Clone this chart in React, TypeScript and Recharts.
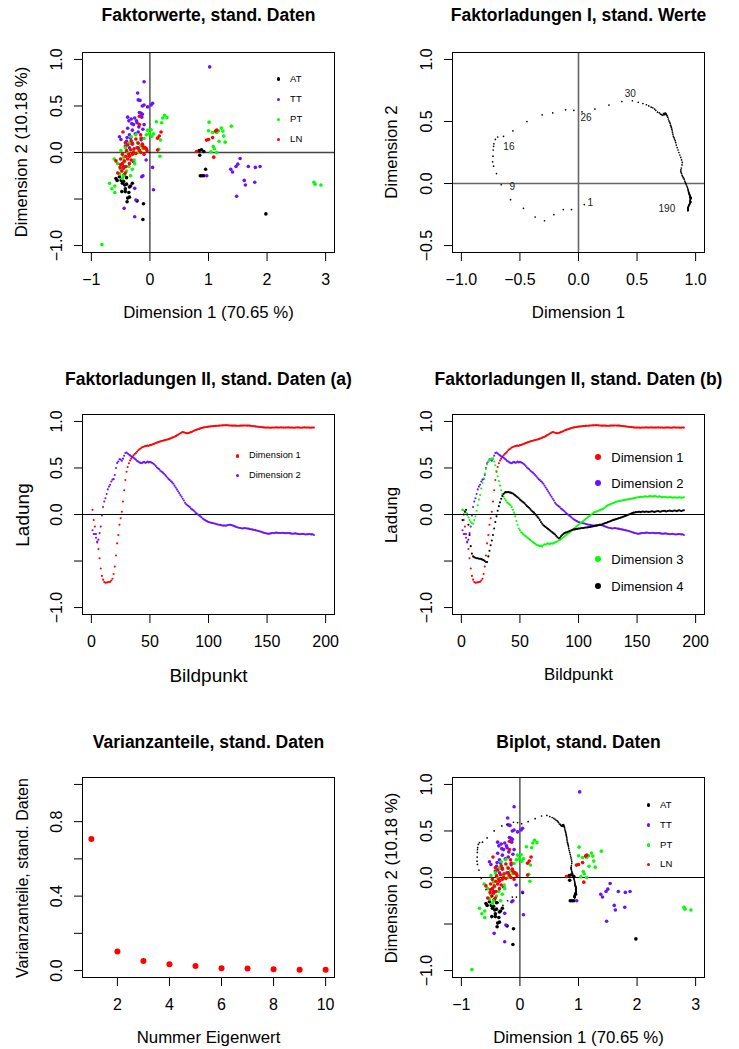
import React from 'react';
import { ScatterChart, Scatter, XAxis, YAxis, ReferenceLine } from 'recharts';

const FONT = '"Liberation Sans", Arial, Helvetica, sans-serif';
const RED = '#FF0000';
const PURPLE = '#6A11FF';
const GREEN = '#00FF00';
const BLACK = '#000000';

// factor scores (Dimension 1, Dimension 2) per tissue group
const SCORES_AT: [number, number][] = [
  [-0.58, -0.28], [-0.56, -0.3], [-0.49, -0.3], [-0.47, -0.33], [-0.45, -0.31], [-0.43, -0.35],
  [-0.4, -0.34], [-0.35, -0.37], [-0.33, -0.36], [-0.42, -0.39], [-0.48, -0.42], [-0.42, -0.42],
  [-0.36, -0.43], [-0.38, -0.49], [-0.35, -0.48], [-0.39, -0.53], [-0.22, -0.52], [-0.11, -0.55],
  [-0.12, -0.72], [-0.4, -0.27], [-0.44, -0.24], [-0.52, -0.26], [-0.3, -0.33],
  [0.84, 0.02], [0.88, 0.03], [0.92, 0.01], [0.85, -0.03], [0.95, -0.18], [0.86, -0.25],
  [0.89, -0.25], [0.92, -0.25], [1.98, -0.66],
];
const SCORES_TT: [number, number][] = [
  [-0.1, 0.76], [-0.21, 0.64], [-0.2, 0.565], [-0.17, 0.56], [-0.13, 0.5], [-0.1, 0.51], [-0.04, 0.49],
  [0.045, 0.53], [0.02, 0.51], [-0.15, 0.42], [-0.13, 0.41], [-0.14, 0.38], [-0.38, 0.38], [-0.36, 0.34],
  [-0.32, 0.36], [-0.31, 0.31], [-0.28, 0.3], [-0.26, 0.37], [-0.22, 0.32], [-0.19, 0.275], [-0.52, 0.17],
  [-0.495, 0.14], [-0.39, 0.16], [-0.35, 0.19], [-0.33, 0.155], [-0.15, 0.136], [-0.065, -0.08],
  [0.045, -0.16], [-0.14, -0.26], [-0.12, -0.25], [0.06, -0.4], [-0.26, -0.385], [-0.24, -0.51],
  [-0.44, -0.6], [-0.26, -0.69], [-0.42, 0.07], [-0.3, 0.1], [-0.25, 0.2], [-0.2, 0.22], [-0.1, 0.3],
  [-0.12, 0.25], [-0.35, 0.05], [-0.28, -0.1], [-0.45, -0.15], [-0.2, 0.05], [-0.38, 0.26], [-0.3, 0.24],
  [-0.18, 0.43], [-0.23, 0.34], [-0.4, 0.12],
  [1.02, 0.92], [1.38, -0.18], [1.41, -0.21], [1.47, -0.15], [1.5, -0.125], [1.54, -0.064], [1.68, -0.15],
  [1.8, -0.16], [1.88, -0.15], [1.61, -0.3], [1.63, -0.35], [1.79, -0.32], [1.48, -0.47], [0.97, -0.25],
];
const SCORES_PT: [number, number][] = [
  [-0.82, -0.99], [-0.69, -0.33], [-0.65, -0.39], [-0.6, -0.36], [-0.6, -0.43], [-0.61, -0.07],
  [-0.55, -0.12], [-0.5, -0.18], [-0.45, -0.25], [-0.4, -0.2], [-0.3, -0.18], [-0.26, -0.12], [-0.27, -0.08],
  [-0.38, 0.0], [-0.495, 0.02], [-0.42, 0.05], [-0.39, 0.09], [-0.32, 0.17], [-0.24, 0.19], [-0.21, 0.11],
  [-0.155, 0.07], [-0.28, 0.025], [-0.06, 0.19], [-0.01, 0.2], [0.02, 0.245], [0.06, 0.2],
  [-0.04, 0.24], [0.03, 0.175], [0.11, 0.33], [0.2, 0.32], [0.25, 0.4], [0.29, 0.375], [0.22, 0.37],
  [0.18, 0.135], [0.15, 0.035], [0.17, -0.04], [-0.35, 0.1], [-0.45, -0.05], [-0.2, 0.0], [-0.1, 0.15],
  [-0.33, -0.25], [-0.52, -0.23], [-0.47, -0.28], [-0.12, 0.04], [-0.36, -0.15], [-0.43, -0.1],
  [1.01, 0.326], [1.0, 0.233], [1.07, 0.215], [1.14, 0.215], [1.17, 0.233], [1.22, 0.262], [1.245, 0.23],
  [1.26, 0.176], [1.285, 0.111], [1.39, 0.283], [1.18, 0.12], [1.08, 0.065], [1.1, 0.04], [1.14, 0.0],
  [1.04, 0.007], [2.8, -0.32], [2.82, -0.34], [2.92, -0.35],
];
const SCORES_LN: [number, number][] = [
  [-0.18, 0.39], [-0.46, 0.22], [-0.18, 0.3], [-0.16, 0.19], [-0.15, 0.155], [-0.32, 0.125], [-0.24, 0.145],
  [-0.42, 0.105], [-0.38, 0.08], [-0.3, 0.09], [-0.27, 0.04], [-0.22, 0.05], [-0.18, 0.025], [-0.13, 0.09],
  [-0.1, 0.05], [-0.05, 0.02], [-0.47, -0.02], [-0.41, -0.04], [-0.35, -0.04], [-0.3, -0.02], [-0.24, -0.01],
  [-0.155, 0.0], [-0.1, -0.02], [-0.5, -0.07], [-0.44, -0.09], [-0.38, -0.07], [-0.32, -0.08], [-0.47, -0.12],
  [-0.41, -0.15], [-0.35, -0.12], [-0.51, -0.16], [-0.58, -0.09], [-0.45, -0.17], [-0.48, -0.2], [-0.42, -0.22],
  [-0.55, -0.22], [-0.5, -0.13], [-0.36, -0.02], [-0.28, 0.0], [-0.2, 0.1], [-0.08, 0.05], [-0.12, 0.07],
  [-0.4, 0.02], [-0.33, 0.03], [0.13, 0.154], [0.16, 0.178], [0.19, 0.22], [0.13, 0.026], [-0.06, 0.04],
  [0.795, 0.01], [0.966, 0.133], [1.0, 0.14], [1.07, 0.16], [1.14, 0.24], [1.12, 0.23], [1.09, -0.05],
];
const GROUPS = ['AT', 'TT', 'PT', 'LN'];

// factor loadings per Bildpunkt 1..190
const LOAD_DIM1 = [
  0.05, -0.06, -0.13, -0.21, -0.29, -0.37, -0.47, -0.58, -0.66, -0.7,
  -0.725, -0.733, -0.73, -0.728, -0.725, -0.722, -0.71, -0.69, -0.64, -0.56,
  -0.44, -0.31, -0.22, -0.11, -0.04, 0.03, 0.14, 0.26, 0.37, 0.46,
  0.51, 0.55, 0.58, 0.6, 0.62, 0.635, 0.65, 0.66, 0.675, 0.69,
  0.7, 0.71, 0.72, 0.725, 0.73, 0.735, 0.738, 0.74, 0.738, 0.745,
  0.748, 0.752, 0.757, 0.762, 0.767, 0.772, 0.778, 0.782, 0.786, 0.79,
  0.793, 0.797, 0.8, 0.803, 0.806, 0.81, 0.815, 0.82, 0.826, 0.83,
  0.835, 0.842, 0.85, 0.857, 0.865, 0.873, 0.88, 0.886, 0.884, 0.878,
  0.874, 0.873, 0.876, 0.88, 0.885, 0.89, 0.896, 0.902, 0.907, 0.912,
  0.916, 0.92, 0.925, 0.93, 0.933, 0.936, 0.938, 0.94, 0.942, 0.944,
  0.946, 0.947, 0.948, 0.95, 0.951, 0.952, 0.953, 0.954, 0.955, 0.956,
  0.957, 0.958, 0.958, 0.959, 0.96, 0.959, 0.958, 0.957, 0.956, 0.955,
  0.955, 0.956, 0.955, 0.954, 0.953, 0.954, 0.955, 0.956, 0.955, 0.956,
  0.957, 0.956, 0.955, 0.956, 0.955, 0.953, 0.951, 0.95, 0.948, 0.947,
  0.945, 0.943, 0.942, 0.94, 0.939, 0.937, 0.936, 0.935, 0.934, 0.934,
  0.935, 0.934, 0.933, 0.934, 0.935, 0.934, 0.935, 0.936, 0.935, 0.934,
  0.935, 0.936, 0.935, 0.934, 0.935, 0.934, 0.935, 0.936, 0.935, 0.934,
  0.935, 0.934, 0.933, 0.934, 0.935, 0.936, 0.935, 0.934, 0.933, 0.934,
  0.935, 0.936, 0.935, 0.934, 0.935, 0.934, 0.933, 0.934, 0.935, 0.934,
];
const LOAD_DIM2 = [
  -0.17, -0.21, -0.21, -0.25, -0.3, -0.27, -0.2, -0.13, -0.01, 0.08,
  0.14, 0.175, 0.22, 0.27, 0.3, 0.32, 0.355, 0.375, 0.38, 0.425,
  0.5, 0.554, 0.57, 0.594, 0.59, 0.578, 0.6, 0.632, 0.661, 0.667,
  0.655, 0.645, 0.635, 0.625, 0.615, 0.61, 0.6, 0.59, 0.575, 0.57,
  0.56, 0.555, 0.55, 0.56, 0.565, 0.555, 0.56, 0.568, 0.56, 0.565,
  0.56, 0.553, 0.545, 0.535, 0.52, 0.505, 0.495, 0.485, 0.47, 0.46,
  0.45, 0.438, 0.425, 0.41, 0.395, 0.38, 0.37, 0.358, 0.345, 0.33,
  0.31, 0.29, 0.27, 0.25, 0.23, 0.21, 0.19, 0.17, 0.15, 0.125,
  0.11, 0.1, 0.09, 0.08, 0.065, 0.055, 0.045, 0.035, 0.02, 0.01,
  0.0, -0.01, -0.02, -0.03, -0.043, -0.052, -0.06, -0.068, -0.074, -0.08,
  -0.084, -0.088, -0.09, -0.094, -0.097, -0.1, -0.104, -0.107, -0.11, -0.112,
  -0.115, -0.118, -0.12, -0.118, -0.12, -0.116, -0.113, -0.11, -0.112, -0.115,
  -0.12, -0.125, -0.13, -0.135, -0.14, -0.142, -0.145, -0.148, -0.15, -0.148,
  -0.146, -0.148, -0.15, -0.152, -0.155, -0.158, -0.16, -0.163, -0.166, -0.168,
  -0.172, -0.175, -0.178, -0.182, -0.185, -0.19, -0.195, -0.198, -0.202, -0.205,
  -0.208, -0.205, -0.203, -0.2, -0.198, -0.2, -0.197, -0.195, -0.196, -0.198,
  -0.2, -0.198, -0.196, -0.198, -0.2, -0.202, -0.2, -0.198, -0.2, -0.203,
  -0.205, -0.207, -0.205, -0.203, -0.205, -0.208, -0.21, -0.212, -0.21, -0.208,
  -0.21, -0.212, -0.215, -0.213, -0.211, -0.21, -0.212, -0.214, -0.212, -0.22,
];
const LOAD_DIM3 = [
  0.05, 0.045, 0.035, 0.02, 0.0, -0.03, -0.06, -0.08, -0.095, -0.1,
  -0.06, -0.02, 0.04, 0.1, 0.16, 0.21, 0.28, 0.34, 0.39, 0.44,
  0.49, 0.54, 0.565, 0.585, 0.595, 0.6, 0.6, 0.57, 0.53, 0.47,
  0.41, 0.36, 0.31, 0.26, 0.22, 0.19, 0.17, 0.15, 0.13, 0.12,
  0.11, 0.1, 0.08, 0.05, 0.02, -0.02, -0.07, -0.11, -0.15, -0.17,
  -0.19, -0.2, -0.215, -0.225, -0.235, -0.245, -0.255, -0.265, -0.275, -0.285,
  -0.295, -0.305, -0.315, -0.325, -0.33, -0.335, -0.34, -0.335, -0.345, -0.33,
  -0.32, -0.325, -0.315, -0.31, -0.32, -0.315, -0.31, -0.315, -0.305, -0.3,
  -0.295, -0.29, -0.28, -0.275, -0.265, -0.255, -0.245, -0.235, -0.225, -0.215,
  -0.205, -0.195, -0.185, -0.175, -0.165, -0.155, -0.145, -0.13, -0.12, -0.11,
  -0.1, -0.09, -0.08, -0.07, -0.06, -0.05, -0.04, -0.03, -0.02, -0.01,
  0.0, 0.01, 0.02, 0.025, 0.03, 0.035, 0.04, 0.045, 0.05, 0.055,
  0.06, 0.07, 0.08, 0.09, 0.1, 0.105, 0.11, 0.115, 0.12, 0.125,
  0.13, 0.135, 0.14, 0.142, 0.145, 0.148, 0.15, 0.152, 0.155, 0.158,
  0.16, 0.162, 0.165, 0.168, 0.17, 0.172, 0.175, 0.178, 0.18, 0.182,
  0.185, 0.187, 0.19, 0.188, 0.19, 0.192, 0.195, 0.193, 0.19, 0.195,
  0.197, 0.195, 0.192, 0.195, 0.198, 0.195, 0.19, 0.192, 0.195, 0.19,
  0.187, 0.185, 0.19, 0.188, 0.185, 0.182, 0.185, 0.188, 0.185, 0.18,
  0.182, 0.185, 0.183, 0.18, 0.182, 0.185, 0.183, 0.18, 0.182, 0.185,
];
const LOAD_DIM4 = [
  -0.06, 0.0, 0.03, 0.05, 0.0, -0.11, -0.22, -0.34, -0.42, -0.45,
  -0.46, -0.465, -0.47, -0.47, -0.475, -0.475, -0.48, -0.485, -0.49, -0.5,
  -0.51, -0.51, -0.45, -0.39, -0.33, -0.28, -0.22, -0.15, -0.08, -0.02,
  0.04, 0.09, 0.13, 0.17, 0.2, 0.22, 0.235, 0.24, 0.24, 0.24,
  0.238, 0.235, 0.23, 0.225, 0.215, 0.205, 0.195, 0.185, 0.175, 0.16,
  0.15, 0.14, 0.13, 0.12, 0.105, 0.09, 0.08, 0.07, 0.055, 0.04,
  0.03, 0.02, 0.005, -0.01, -0.025, -0.04, -0.06, -0.08, -0.1, -0.115,
  -0.125, -0.135, -0.145, -0.155, -0.165, -0.175, -0.185, -0.195, -0.205, -0.215,
  -0.23, -0.245, -0.255, -0.25, -0.235, -0.22, -0.21, -0.2, -0.195, -0.19,
  -0.185, -0.18, -0.175, -0.17, -0.165, -0.16, -0.16, -0.155, -0.155, -0.15,
  -0.15, -0.148, -0.145, -0.145, -0.143, -0.14, -0.14, -0.138, -0.135, -0.133,
  -0.13, -0.128, -0.125, -0.122, -0.12, -0.118, -0.115, -0.112, -0.11, -0.107,
  -0.1, -0.097, -0.092, -0.088, -0.082, -0.078, -0.072, -0.068, -0.062, -0.058,
  -0.055, -0.05, -0.046, -0.042, -0.038, -0.034, -0.03, -0.025, -0.02, -0.015,
  -0.01, -0.005, 0.0, 0.005, 0.01, 0.015, 0.02, 0.022, 0.025, 0.027,
  0.028, 0.03, 0.025, 0.03, 0.032, 0.028, 0.03, 0.033, 0.03, 0.028,
  0.03, 0.033, 0.035, 0.03, 0.028, 0.032, 0.035, 0.038, 0.033, 0.03,
  0.035, 0.038, 0.04, 0.036, 0.032, 0.037, 0.04, 0.042, 0.038, 0.035,
  0.04, 0.043, 0.04, 0.036, 0.042, 0.045, 0.04, 0.037, 0.043, 0.046,
];
const LABELLED_PIXELS = [1, 9, 16, 26, 30, 190];
const LABEL_OFFSETS: Record<number, [number, number]> = {
  1: [6, -2], 9: [11, 2], 16: [15, 3], 26: [4, 6], 30: [-2, -7], 190: [-21, -2],
};

// proportion of variance per eigenvalue
const VAR_SHARE = [0.7065, 0.1018, 0.052, 0.034, 0.025, 0.0125, 0.011, 0.007, 0.005, 0.004];

const toPts = (arr: [number, number][]) => arr.map(([x, y]) => ({ x, y }));
const byPixel = (vals: number[]) => vals.map((v, i) => ({ x: i + 1, y: v }));
const loadPairs = LOAD_DIM1.map((v, i) => ({ x: v, y: LOAD_DIM2[i], px: i + 1 }));
const labelPts = loadPairs.filter((d) => LABELLED_PIXELS.includes(d.px));
const varPts = VAR_SHARE.map((v, i) => ({ x: i + 1, y: v }));

const BOX_TOP = [52, 414, 777];
const COL_LEFT = [0, 370];

const minus = (s: string) => s.replace('-', '\u2212');
const f0 = (v: number) => minus(String(v));
const f1 = (v: number) => minus(v.toFixed(1));

const dot = (r: number, fill: string) => (p: any) =>
  p.cx == null ? <g /> : <circle cx={p.cx} cy={p.cy} r={r} fill={fill} />;

const xTick = (fmt: (v: number) => string, fs: number) => (p: any) => (
  <text x={p.x} y={p.y + 18} textAnchor="middle" dominantBaseline="central" fontSize={fs} fill="#000" fontFamily={FONT}>
    {fmt(p.payload.value)}
  </text>
);
const yTick = (fmt: (v: number) => string, fs: number) => (p: any) => {
  const cx = p.x - 17.5;
  return (
    <text x={cx} y={p.y} transform={`rotate(-90 ${cx} ${p.y})`} textAnchor="middle" dominantBaseline="central" fontSize={fs} fill="#000" fontFamily={FONT}>
      {fmt(p.payload.value)}
    </text>
  );
};

type Axis = { domain: [number, number]; ticks: number[]; fmt: (v: number) => string };

function Panel({ col, row, x, y, tickFont = 16, children }: { col: number; row: number; x: Axis; y: Axis; tickFont?: number; children: React.ReactNode }) {
  return (
    <div style={{ position: 'absolute', left: COL_LEFT[col], top: BOX_TOP[row] - 60, width: 370, height: 341 }}>
      <ScatterChart width={370} height={341} margin={{ top: 60, right: 35, bottom: 20, left: 0 }}>
        <XAxis type="number" dataKey="x" domain={x.domain} ticks={x.ticks} interval={0} allowDataOverflow
          axisLine={false} stroke="#000" tickLine={{ stroke: '#000' }} tickSize={8} tickMargin={0} height={60}
          tick={xTick(x.fmt, tickFont)} />
        <YAxis type="number" dataKey="y" domain={y.domain} ticks={y.ticks} interval={0} allowDataOverflow
          axisLine={false} stroke="#000" tickLine={{ stroke: '#000' }} tickSize={8} tickMargin={0} width={82}
          tick={yTick(y.fmt, tickFont)} />
        {children}
      </ScatterChart>
      <div style={{ position: 'absolute', left: 82, top: 60, width: 253, height: 201, border: '1px solid #000', boxSizing: 'border-box', pointerEvents: 'none' }} />
    </div>
  );
}

function Txt({ x, y, size, bold, rot, children }: { x: number; y: number; size: number; bold?: boolean; rot?: boolean; children: React.ReactNode }) {
  return (
    <div style={{
      position: 'absolute', left: x, top: y, fontSize: size, fontWeight: bold ? 700 : 400, lineHeight: 1,
      whiteSpace: 'nowrap', transform: `translate(-50%, -50%)${rot ? ' rotate(-90deg)' : ''}`,
    }}>{children}</div>
  );
}

function Legend({ x, ys, labels, colors, size, r }: { x: number; ys: number[]; labels: string[]; colors: string[]; size: number; r: number }) {
  return (
    <>
      {labels.map((l, i) => (
        <React.Fragment key={l}>
          <div style={{ position: 'absolute', left: x - r, top: ys[i] - r, width: 2 * r, height: 2 * r, borderRadius: '50%', background: colors[i] }} />
          <div style={{ position: 'absolute', left: x + 10 + r, top: ys[i], transform: 'translateY(-50%)', fontSize: size, lineHeight: 1, whiteSpace: 'nowrap' }}>{l}</div>
        </React.Fragment>
      ))}
    </>
  );
}

const GROUP_COLORS = [BLACK, PURPLE, GREEN, RED];
const scoreX: Axis = { domain: [-1.16, 3.16], ticks: [-1, 0, 1, 2, 3], fmt: f0 };
const scoreY: Axis = { domain: [-1.08, 1.08], ticks: [-1, -0.5, 0, 0.5, 1], fmt: (v) => (v === -0.5 ? '' : f1(v)) };
const pixelX: Axis = { domain: [-8, 208], ticks: [0, 50, 100, 150, 200], fmt: f0 };

export default function App() {
  const scoreSets = [SCORES_AT, SCORES_TT, SCORES_PT, SCORES_LN];
  const scoreSeries = (r: number) =>
    scoreSets.map((s, i) => (
      <Scatter key={GROUPS[i]} name={GROUPS[i]} data={toPts(s)} isAnimationActive={false} shape={dot(r, GROUP_COLORS[i])} />
    ));
  return (
    <div style={{ position: 'absolute', left: 0, top: 0, width: 739, height: 1049, background: '#fff', overflow: 'hidden', fontFamily: FONT, color: '#000' }}>
      {/* Faktorwerte */}
      <Panel col={0} row={0} x={scoreX} y={scoreY}>
        <ReferenceLine y={0} stroke="#444" strokeWidth={1.6} />
        <ReferenceLine x={0} stroke="#000" strokeWidth={1} />
        {scoreSeries(1.8)}
      </Panel>
      <Txt x={208.5} y={16} size={17.5} bold>Faktorwerte, stand. Daten</Txt>
      <Txt x={208.5} y={312.5} size={16.8}>Dimension 1 (70.65 %)</Txt>
      <Txt x={22} y={152} size={16.8} rot>Dimension 2 (10.18 %)</Txt>
      <Legend x={278.3} ys={[79, 99.3, 119.3, 139.3]} labels={GROUPS} colors={GROUP_COLORS} size={9.5} r={1.8} />

      {/* Faktorladungen I */}
      <Panel col={1} row={0}
        x={{ domain: [-1.08, 1.08], ticks: [-1, -0.5, 0, 0.5, 1], fmt: f1 }}
        y={{ domain: [-0.56, 1.06], ticks: [-0.5, 0, 0.5, 1], fmt: f1 }}>
        <ReferenceLine y={0} stroke="#666" strokeWidth={1.6} />
        <ReferenceLine x={0} stroke="#666" strokeWidth={1.6} />
        <Scatter name="Ladungen" data={loadPairs} isAnimationActive={false} shape={dot(0.85, BLACK)} />
        <Scatter name="Labels" data={labelPts} isAnimationActive={false}
          shape={(p: any) => {
            const [dx, dy] = LABEL_OFFSETS[p.payload.px];
            return (
              <text x={p.cx + dx} y={p.cy + dy} textAnchor="middle" dominantBaseline="central" fontSize={10} fill="#222" fontFamily={FONT}>
                {p.payload.px}
              </text>
            );
          }} />
      </Panel>
      <Txt x={578.5} y={16} size={17.5} bold>Faktorladungen I, stand. Werte</Txt>
      <Txt x={578.5} y={312.5} size={16.8}>Dimension 1</Txt>
      <Txt x={392} y={152} size={16.8} rot>Dimension 2</Txt>

      {/* Faktorladungen II (a) */}
      <Panel col={0} row={1} x={pixelX} y={scoreY}>
        <ReferenceLine y={0} stroke="#000" strokeWidth={1} />
        <Scatter name="Dimension 1" data={byPixel(LOAD_DIM1)} isAnimationActive={false} shape={dot(1.05, RED)} />
        <Scatter name="Dimension 2" data={byPixel(LOAD_DIM2)} isAnimationActive={false} shape={dot(1.05, PURPLE)} />
      </Panel>
      <Txt x={208.5} y={380} size={17.5} bold>Faktorladungen II, stand. Daten (a)</Txt>
      <Txt x={208.5} y={675} size={19}>Bildpunkt</Txt>
      <Txt x={22} y={514.5} size={19} rot>Ladung</Txt>
      <Legend x={237.3} ys={[456, 475.7]} labels={['Dimension 1', 'Dimension 2']} colors={[RED, PURPLE]} size={9.3} r={1.8} />

      {/* Faktorladungen II (b) */}
      <Panel col={1} row={1} x={pixelX} y={scoreY}>
        <ReferenceLine y={0} stroke="#000" strokeWidth={1} />
        <Scatter name="Dimension 1" data={byPixel(LOAD_DIM1)} isAnimationActive={false} shape={dot(1.05, RED)} />
        <Scatter name="Dimension 2" data={byPixel(LOAD_DIM2)} isAnimationActive={false} shape={dot(1.05, PURPLE)} />
        <Scatter name="Dimension 3" data={byPixel(LOAD_DIM3)} isAnimationActive={false} shape={dot(1.05, GREEN)} />
        <Scatter name="Dimension 4" data={byPixel(LOAD_DIM4)} isAnimationActive={false} shape={dot(1.05, BLACK)} />
      </Panel>
      <Txt x={578.5} y={380} size={17.5} bold>Faktorladungen II, stand. Daten (b)</Txt>
      <Txt x={578.5} y={675} size={16.8}>Bildpunkt</Txt>
      <Txt x={392} y={514.5} size={16.8} rot>Ladung</Txt>
      <Legend x={598.3} ys={[456.7, 482.7, 559.3, 585.7]} labels={['Dimension 1', 'Dimension 2', 'Dimension 3', 'Dimension 4']}
        colors={[RED, PURPLE, GREEN, BLACK]} size={13} r={3} />

      {/* Varianzanteile */}
      <Panel col={0} row={2}
        x={{ domain: [0.64, 10.36], ticks: [2, 4, 6, 8, 10], fmt: f0 }}
        y={{ domain: [-0.04, 1.04], ticks: [0, 0.2, 0.4, 0.6, 0.8, 1], fmt: (v) => ([0, 0.4, 0.8].includes(v) ? f1(v) : '') }}>
        <Scatter name="Varianzanteil" data={varPts} isAnimationActive={false} shape={dot(3, RED)} />
      </Panel>
      <Txt x={208.5} y={743} size={17.5} bold>Varianzanteile, stand. Daten</Txt>
      <Txt x={208.5} y={1038} size={16.8}>Nummer Eigenwert</Txt>
      <Txt x={23} y={877.5} size={16} rot>Varianzanteile, stand. Daten</Txt>

      {/* Biplot */}
      <Panel col={1} row={2} x={scoreX} y={scoreY}>
        <ReferenceLine y={0} stroke="#000" strokeWidth={1} />
        <ReferenceLine x={0} stroke="#000" strokeWidth={1} />
        {scoreSeries(1.8)}
        <Scatter name="Ladungen" data={loadPairs} isAnimationActive={false} shape={dot(0.85, BLACK)} />
      </Panel>
      <Txt x={578.5} y={743} size={17.5} bold>Biplot, stand. Daten</Txt>
      <Txt x={578.5} y={1038} size={16.8}>Dimension 1 (70.65 %)</Txt>
      <Txt x={392} y={877.5} size={16.8} rot>Dimension 2 (10.18 %)</Txt>
      <Legend x={648.3} ys={[805, 825, 845, 864.3]} labels={GROUPS} colors={GROUP_COLORS} size={9.5} r={1.8} />
    </div>
  );
}
